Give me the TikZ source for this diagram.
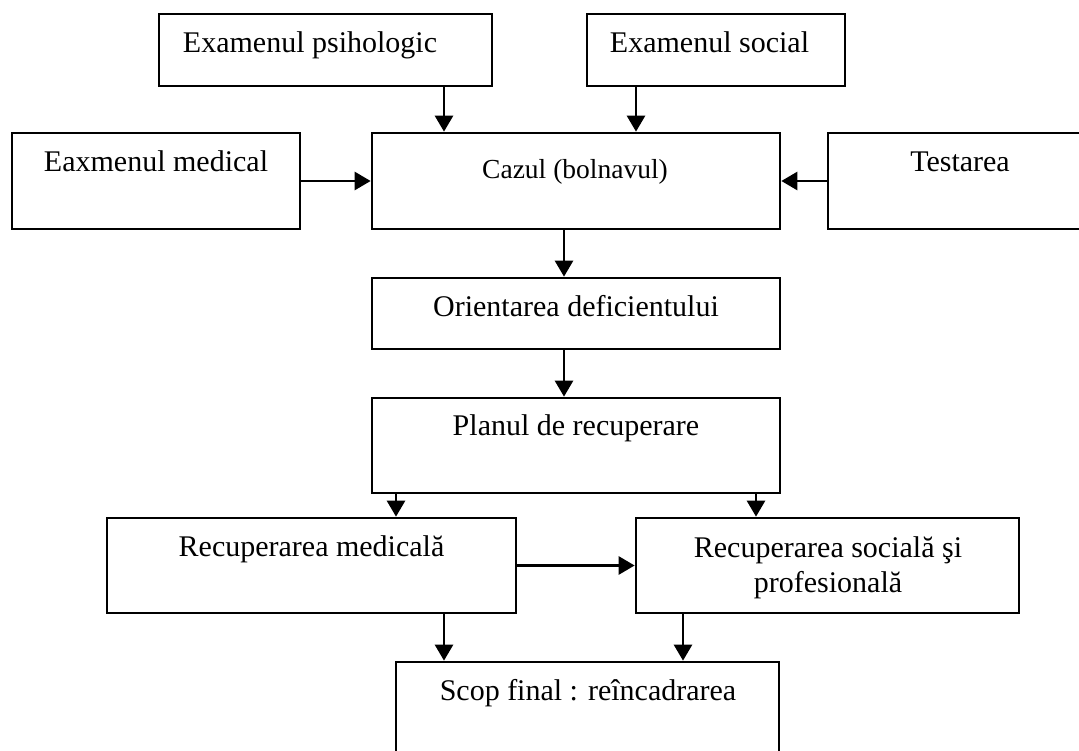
\documentclass[tikz,border=0pt]{standalone}
\usepackage{fontspec}
\setmainfont{Liberation Serif}
\usetikzlibrary{arrows.meta}
\begin{document}
\begin{tikzpicture}[x=1pt,y=-1pt,
  box/.style={draw, line width=2.7pt, rectangle, inner sep=0pt},
  arr/.style={line width=2.7pt, -{Triangle[length=16pt,width=18pt]}},
  txt/.style={anchor=base, inner sep=0pt, font=\fontsize{30}{36}\selectfont},
  smalltxt/.style={anchor=base, inner sep=0pt, font=\fontsize{27.5}{33}\selectfont}]
\clip (0,0) rectangle (1079,751);
\fill[white] (0,0) rectangle (1079,751);

% boxes
\node[box, minimum width=333pt, minimum height=72pt] (psi)   at (325.5,50)  {};
\node[box, minimum width=258pt, minimum height=72pt] (soc)   at (716,50)    {};
\node[box, minimum width=288pt, minimum height=96pt] (med)   at (156,181)   {};
\node[box, minimum width=408pt, minimum height=96pt] (caz)   at (576,181)   {};
\node[box, minimum width=264pt, minimum height=96pt] (test)  at (960,181)   {};
\node[box, minimum width=408pt, minimum height=71pt] (ori)   at (576,313.5) {};
\node[box, minimum width=408pt, minimum height=95pt] (plan)  at (576,445.5) {};
\node[box, minimum width=409pt, minimum height=95pt] (rmed)  at (311.5,565.5) {};
\node[box, minimum width=383pt, minimum height=95pt] (rsoc)  at (827.5,565.5) {};
\node[box, minimum width=383pt, minimum height=96pt] (scop)  at (587.5,710) {};

% texts
\node[txt] (tpsi)  at (310,53)   {Examenul psihologic};
\node[txt] (tsoc)  at (709.5,53) {Examenul social};
\node[txt] (tmed)  at (156,172)  {Eaxmenul medical};
\node[smalltxt] (tcaz) at (575,179) {Cazul (bolnavul)};
\node[txt] (ttest) at (960,172)  {Testarea};
\node[txt] (tori)  at (576,317)  {Orientarea deficientului};
\node[txt] (tplan) at (576,435)  {Planul de recuperare};
\node[txt] (trmed) at (311.5,556) {Recuperarea medicală};
\node[txt] (trsoc1) at (828,557) {Recuperarea socială şi};
\node[txt] (trsoc2) at (828,592) {profesională};
\node[txt] (tscop) at (588,700)  {Scop final : reîncadrarea};

% connectors
\draw[arr] (psi.south -| 444,0)  -- (caz.north -| 444,0);
\draw[arr] (soc.south -| 636,0)  -- (caz.north -| 636,0);
\draw[arr] (med.east)            -- (caz.west);
\draw[arr] (test.west)           -- (caz.east);
\draw[arr] (caz.south -| 564,0)  -- (ori.north -| 564,0);
\draw[arr] (ori.south -| 564,0)  -- (plan.north -| 564,0);
\draw[arr] (plan.south -| 396,0) -- (rmed.north -| 396,0);
\draw[arr] (plan.south -| 756,0) -- (rsoc.north -| 756,0);
\draw[arr] (rmed.east)           -- (rsoc.west);
\draw[arr] (rmed.south -| 444,0) -- (scop.north -| 444,0);
\draw[arr] (rsoc.south -| 683,0) -- (scop.north -| 683,0);
\end{tikzpicture}
\end{document}
